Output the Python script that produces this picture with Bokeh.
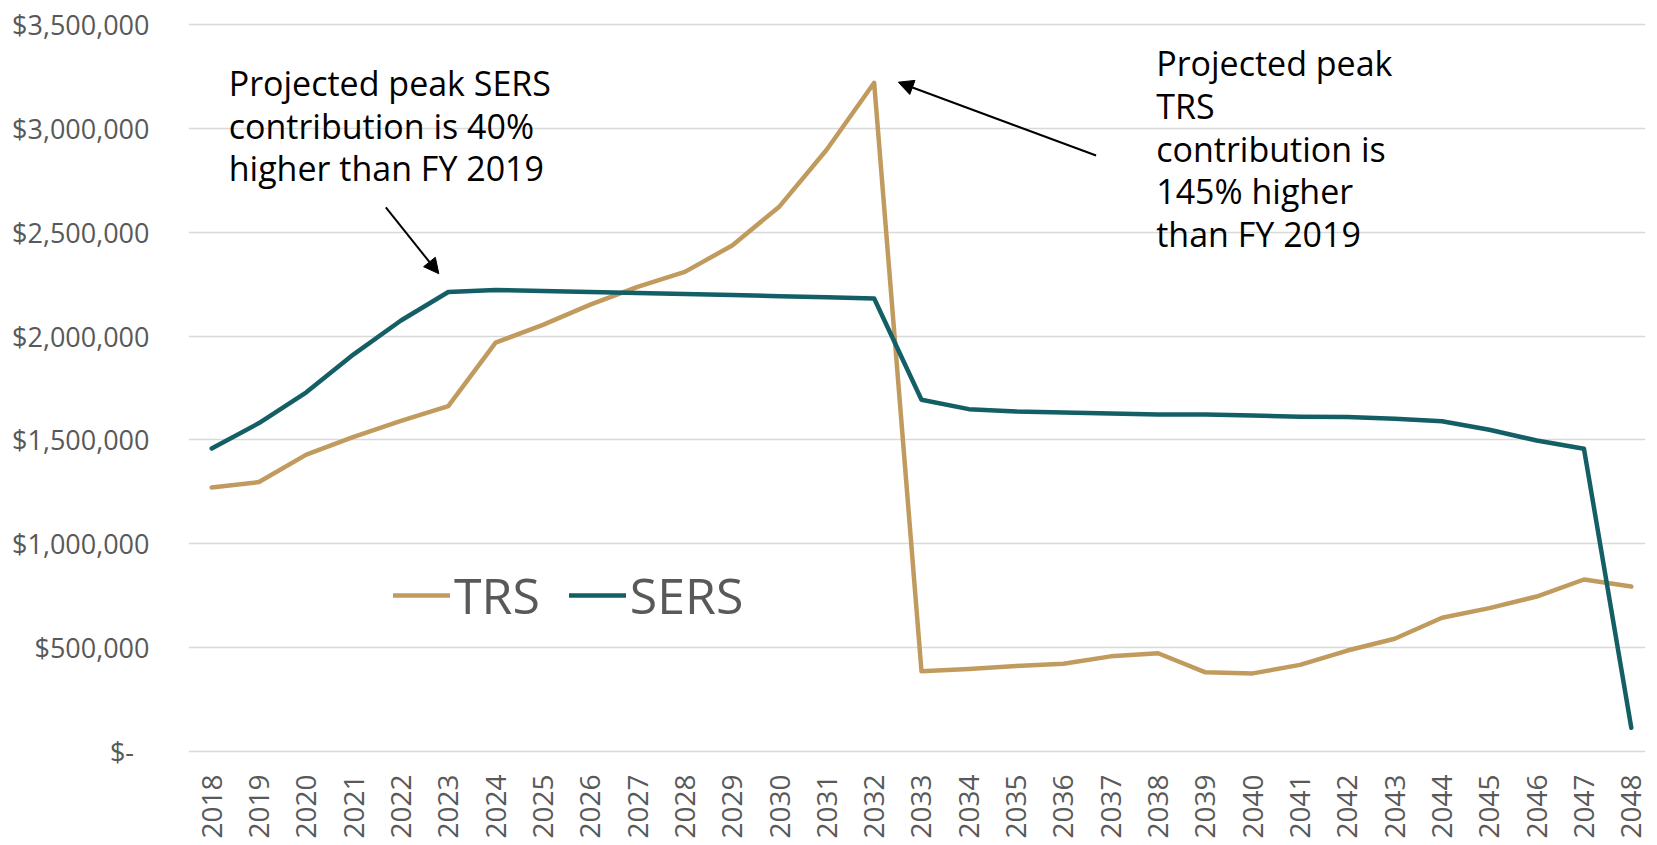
import math
from bokeh.plotting import figure
from bokeh.models import (ColumnDataSource, FixedTicker, NumeralTickFormatter, Legend,
                          LegendItem, Arrow, NormalHead, Range1d)
from bokeh.core.properties import value
from bokeh.embed import file_html
from bokeh.resources import INLINE

# ---- data ----
years = list(range(2018, 2049))
trs = [1271000, 1297000, 1429000, 1515000, 1592000, 1663000, 1968000, 2054000, 2151000,
       2237000, 2309000, 2436000, 2624000, 2898000, 3219000, 386000, 397000, 412000,
       422000, 458000, 473000, 381000, 376000, 417000, 486000, 543000, 644000, 690000,
       746000, 828000, 794000]
sers = [1459000, 1581000, 1729000, 1912000, 2075000, 2212000, 2222000, 2217000, 2212000,
        2207000, 2202000, 2197000, 2192000, 2187000, 2181000, 1693000, 1648000, 1637000,
        1632000, 1627000, 1622000, 1622000, 1617000, 1612000, 1610000, 1602000, 1590000,
        1549000, 1497000, 1457000, 114000]
y_ticks = [0, 500000, 1000000, 1500000, 2000000, 2500000, 3000000, 3500000]
series_names = ["TRS", "SERS"]

note_left = "Projected peak SERS\ncontribution is 40%\nhigher than FY 2019"
note_right = "Projected peak\nTRS\ncontribution is\n145% higher\nthan FY 2019"
# annotation anchor points (data coordinates)
note_left_xy = (2018.36, 3330000)
note_right_xy = (2037.96, 3425000)
arrow_left = (2021.68, 2619000, 2022.80, 2300000)
arrow_right = (2036.69, 2869000, 2032.51, 3222000)

TRS_COLOR = "#C19B5E"
SERS_COLOR = "#135F65"
FONT = "Open Sans"
GREY = "#595959"

src = ColumnDataSource(dict(year=years, trs=trs, sers=sers))

p = figure(frame_width=1457, frame_height=735, output_backend="svg", toolbar_location=None,
           x_range=Range1d(2017.51, 2048.3), y_range=Range1d(-19300, 3519000),
           min_border_left=188, min_border_right=4, min_border_top=20, min_border_bottom=90)
p.outline_line_color = None
p.background_fill_color = "white"
p.border_fill_color = "white"

r1 = p.line("year", "trs", source=src, line_color=TRS_COLOR, line_width=4.5,
            line_join="round", line_cap="round")
r2 = p.line("year", "sers", source=src, line_color=SERS_COLOR, line_width=4.5,
            line_join="round", line_cap="round")

# axes
p.xaxis.ticker = FixedTicker(ticks=years)
p.xaxis.major_label_orientation = math.pi / 2
p.yaxis.ticker = FixedTicker(ticks=y_ticks)
p.yaxis.formatter = NumeralTickFormatter(format="$0,0")
p.yaxis.major_label_overrides = {0: "$-\u2007"}
for ax in (p.xaxis, p.yaxis):
    ax.axis_line_color = None
    ax.major_tick_line_color = None
    ax.minor_tick_line_color = None
    ax.major_tick_in = 0
    ax.major_tick_out = 0
    ax.major_label_text_font = FONT
    ax.major_label_text_color = GREY
p.yaxis.major_label_text_font_size = "27px"
p.xaxis.major_label_text_font_size = "28px"
p.yaxis.major_label_standoff = 39
p.xaxis.major_label_standoff = 19

p.xgrid.grid_line_color = None
p.ygrid.grid_line_color = "#D9D9D9"
p.ygrid.grid_line_width = 1.5

# legend
legend = Legend(items=[LegendItem(label=series_names[0], renderers=[r1]),
                       LegendItem(label=series_names[1], renderers=[r2])],
                orientation="horizontal", location=(205, 126),
                label_text_font=FONT, label_text_font_size="50px", label_text_color=GREY,
                glyph_width=57, glyph_height=50, label_standoff=4, spacing=29,
                padding=0, margin=0, border_line_color=None, background_fill_alpha=0)
p.add_layout(legend)

# annotations
for txt, xy in ((note_left, note_left_xy), (note_right, note_right_xy)):
    p.text(x=[xy[0]], y=[xy[1]], text=[txt], text_font=value(FONT),
           text_font_size="34px", text_color="black", text_baseline="top", text_align="left",
           text_line_height=0.93)
for a in (arrow_left, arrow_right):
    p.add_layout(Arrow(x_start=a[0], y_start=a[1], x_end=a[2], y_end=a[3],
                       line_color="black", line_width=2,
                       end=NormalHead(size=15, fill_color="black", line_color="black")))

open("out.html", "w").write(file_html(p, INLINE))
